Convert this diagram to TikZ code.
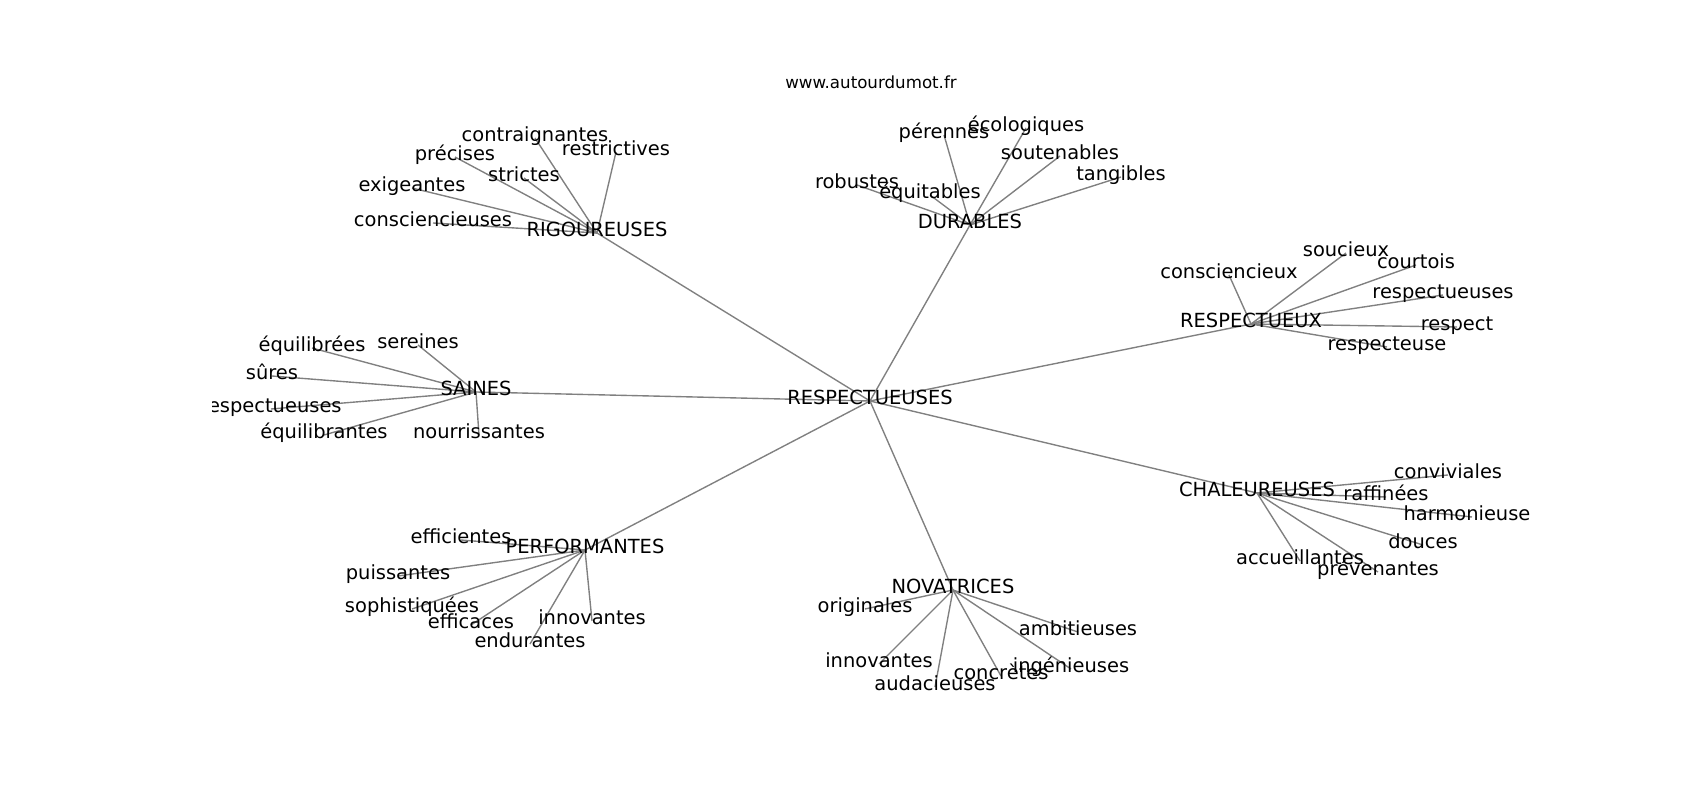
\documentclass[tikz,border=0pt]{standalone}
\usepackage{fontspec}
\setmainfont{DejaVu Sans}
\usetikzlibrary{backgrounds}
\definecolor{edgegray}{RGB}{128,128,128}

\begin{document}
\begin{tikzpicture}[x=0.01in, y=-0.01in,
	every node/.style={inner sep=0pt, text height=0.76em, text depth=0.24em, font=\fontsize{14.05}{17}\selectfont},
	link/.style={draw=edgegray, line width=1pt}]
	\useasboundingbox (0,0) rectangle (1700,800);
	
	\node (site) at (871,85) [font=\fontsize{12.04}{14}\selectfont] {www.autourdumot.fr};
	
	\begin{scope}
	\clip (212.5,96) rectangle (1530,712);
	\node (respectueuses) at (870,401) {RESPECTUEUSES};
	
	\node (rigoureuses) at (597,233) {RIGOUREUSES};
	\node (contraignantes) at (535,138) {contraignantes};
	\node (restrictives) at (616,152) {restrictives};
	\node (precises) at (455,157) {précises};
	\node (strictes) at (524,178) {strictes};
	\node (exigeantes) at (412,188) {exigeantes};
	\node (consciencieuses) at (433,223) {consciencieuses};
	
	\node (durables) at (970,225) {DURABLES};
	\node (perennes) at (944,135) {pérennes};
	\node (ecologiques) at (1026,128) {écologiques};
	\node (soutenables) at (1060,156) {soutenables};
	\node (tangibles) at (1121,177) {tangibles};
	\node (robustes) at (857,185) {robustes};
	\node (equitables) at (930,195) {équitables};
	
	\node (respectueux) at (1251,324) {RESPECTUEUX};
	\node (consciencieux) at (1229,275) {consciencieux};
	\node (soucieux) at (1346,253) {soucieux};
	\node (courtois) at (1416,265) {courtois};
	\node (rx-respectueuses) at (1443,295) {respectueuses};
	\node (respect) at (1457,327) {respect};
	\node (respecteuse) at (1387,347) {respecteuse};
	
	\node (saines) at (476,392) {SAINES};
	\node (equilibrees) at (312,348) {équilibrées};
	\node (sereines) at (418,345) {sereines};
	\node (sures) at (272,376) {sûres};
	\node (sa-respectueuses) at (271,409) {respectueuses};
	\node (equilibrantes) at (324,435) {équilibrantes};
	\node (nourrissantes) at (479,435) {nourrissantes};
	
	\node (chaleureuses) at (1257,493) {CHALEUREUSES};
	\node (conviviales) at (1448,475) {conviviales};
	\node (raffinees) at (1386,497) {raffinées};
	\node (harmonieuses) at (1472,517) {harmonieuses};
	\node (douces) at (1423,545) {douces};
	\node (accueillantes) at (1300,561) {accueillantes};
	\node (prevenantes) at (1378,572) {prévenantes};
	
	\node (performantes) at (585,550) {PERFORMANTES};
	\node (efficientes) at (461,540) {efficientes};
	\node (puissantes) at (398,576) {puissantes};
	\node (sophistiquees) at (412,609) {sophistiquées};
	\node (efficaces) at (471,625) {efficaces};
	\node (pf-innovantes) at (592,621) {innovantes};
	\node (endurantes) at (530,644) {endurantes};
	
	\node (novatrices) at (953,590) {NOVATRICES};
	\node (originales) at (865,609) {originales};
	\node (ambitieuses) at (1078,632) {ambitieuses};
	\node (nv-innovantes) at (879,664) {innovantes};
	\node (audacieuses) at (935,687) {audacieuses};
	\node (concretes) at (1001,676) {concrètes};
	\node (ingenieuses) at (1071,669) {ingénieuses};
	\end{scope}
	
	\begin{pgfonlayer}{background}
	\draw[link] (respectueuses.center) -- (rigoureuses.center);
	\draw[link] (respectueuses.center) -- (durables.center);
	\draw[link] (respectueuses.center) -- (respectueux.center);
	\draw[link] (respectueuses.center) -- (saines.center);
	\draw[link] (respectueuses.center) -- (chaleureuses.center);
	\draw[link] (respectueuses.center) -- (performantes.center);
	\draw[link] (respectueuses.center) -- (novatrices.center);
	
	\draw[link] (rigoureuses.center) -- (contraignantes.center);
	\draw[link] (rigoureuses.center) -- (restrictives.center);
	\draw[link] (rigoureuses.center) -- (precises.center);
	\draw[link] (rigoureuses.center) -- (strictes.center);
	\draw[link] (rigoureuses.center) -- (exigeantes.center);
	\draw[link] (rigoureuses.center) -- (consciencieuses.center);
	
	\draw[link] (durables.center) -- (perennes.center);
	\draw[link] (durables.center) -- (ecologiques.center);
	\draw[link] (durables.center) -- (soutenables.center);
	\draw[link] (durables.center) -- (tangibles.center);
	\draw[link] (durables.center) -- (robustes.center);
	\draw[link] (durables.center) -- (equitables.center);
	
	\draw[link] (respectueux.center) -- (consciencieux.center);
	\draw[link] (respectueux.center) -- (soucieux.center);
	\draw[link] (respectueux.center) -- (courtois.center);
	\draw[link] (respectueux.center) -- (rx-respectueuses.center);
	\draw[link] (respectueux.center) -- (respect.center);
	\draw[link] (respectueux.center) -- (respecteuse.center);
	
	\draw[link] (saines.center) -- (equilibrees.center);
	\draw[link] (saines.center) -- (sereines.center);
	\draw[link] (saines.center) -- (sures.center);
	\draw[link] (saines.center) -- (sa-respectueuses.center);
	\draw[link] (saines.center) -- (equilibrantes.center);
	\draw[link] (saines.center) -- (nourrissantes.center);
	
	\draw[link] (chaleureuses.center) -- (conviviales.center);
	\draw[link] (chaleureuses.center) -- (raffinees.center);
	\draw[link] (chaleureuses.center) -- (harmonieuses.center);
	\draw[link] (chaleureuses.center) -- (douces.center);
	\draw[link] (chaleureuses.center) -- (accueillantes.center);
	\draw[link] (chaleureuses.center) -- (prevenantes.center);
	
	\draw[link] (performantes.center) -- (efficientes.center);
	\draw[link] (performantes.center) -- (puissantes.center);
	\draw[link] (performantes.center) -- (sophistiquees.center);
	\draw[link] (performantes.center) -- (efficaces.center);
	\draw[link] (performantes.center) -- (pf-innovantes.center);
	\draw[link] (performantes.center) -- (endurantes.center);
	
	\draw[link] (novatrices.center) -- (originales.center);
	\draw[link] (novatrices.center) -- (ambitieuses.center);
	\draw[link] (novatrices.center) -- (nv-innovantes.center);
	\draw[link] (novatrices.center) -- (audacieuses.center);
	\draw[link] (novatrices.center) -- (concretes.center);
	\draw[link] (novatrices.center) -- (ingenieuses.center);
	\end{pgfonlayer}
\end{tikzpicture}
\end{document}
